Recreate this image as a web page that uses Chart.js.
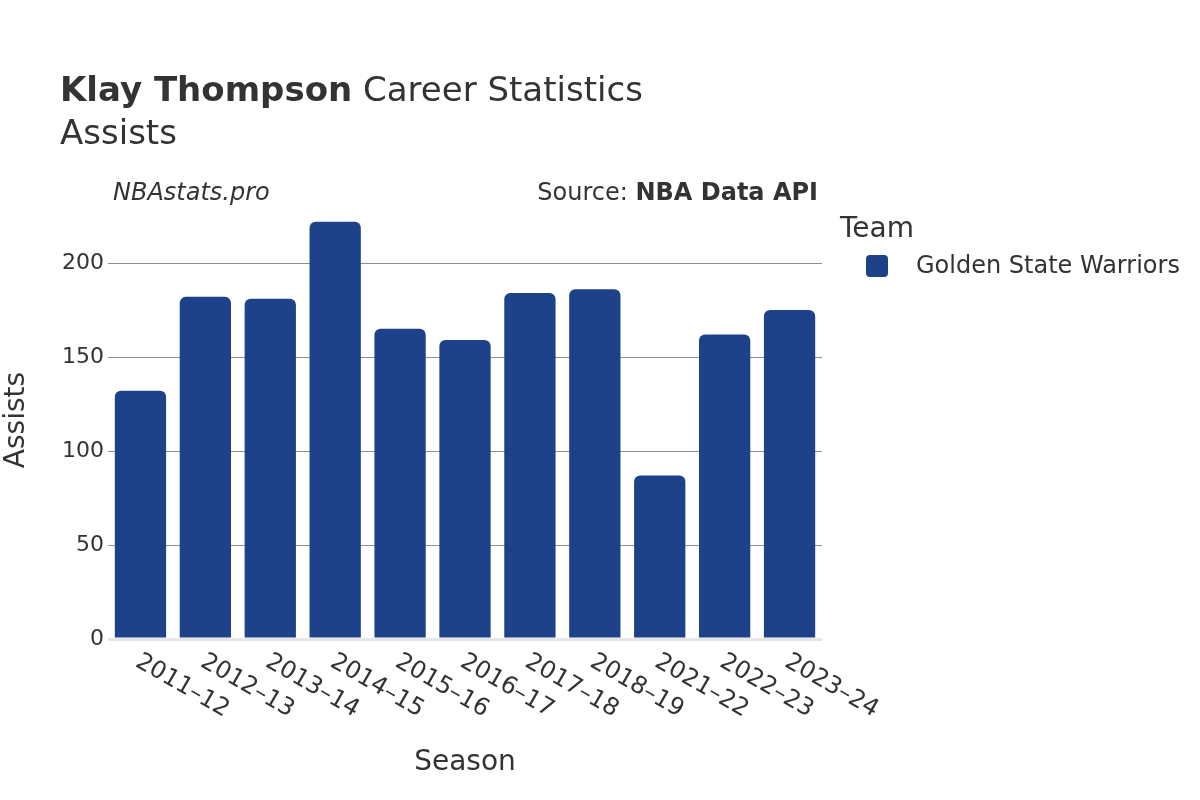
<!DOCTYPE html>
<html>
<head>
<meta charset="utf-8">
<script src="https://cdn.jsdelivr.net/npm/chart.js@4.4.1/dist/chart.umd.min.js"></script>
<style>
  html, body { margin: 0; padding: 0; background: #ffffff; }
  #wrap { width: 1200px; height: 800px; position: relative; }
</style>
</head>
<body>
<div id="wrap"><canvas id="c" width="1200" height="800"></canvas></div>
<script>
const seasons = ["2011–12", "2012–13", "2013–14", "2014–15", "2015–16", "2016–17", "2017–18", "2018–19", "2021–22", "2022–23", "2023–24"];
const assists = [132, 182, 181, 222, 165, 159, 184, 186, 87, 162, 175];
const yTicks = [0, 50, 100, 150, 200];
const teamName = "Golden State Warriors";
const titleBold = "Klay Thompson";
const titleRest = " Career Statistics";
const subtitle = "Assists";
const leftNote = "NBAstats.pro";
const sourceLabel = "Source: ";
const sourceBold = "NBA Data API";
const xTitle = "Season";
const yTitle = "Assists";
const legendTitle = "Team";

const FONT = "'DejaVu Sans', sans-serif";
const TXT = "#333333";
const BAR = "#1d428a";

const overlay = {
  id: 'overlay',
  afterDraw(chart) {
    const ctx = chart.ctx;
    const area = chart.chartArea;
    const xs = chart.scales.x;
    ctx.save();
    ctx.fillStyle = TXT;
    ctx.textBaseline = 'alphabetic';
    // Title
    ctx.textAlign = 'left';
    ctx.font = "bold 34px " + FONT;
    ctx.fillText(titleBold, 60, 101);
    const w = ctx.measureText(titleBold).width;
    ctx.font = "34px " + FONT;
    ctx.fillText(titleRest, 60 + w, 101);
    ctx.fillText(subtitle, 60, 144);
    // Notes
    ctx.font = "italic 24px " + FONT;
    ctx.fillText(leftNote, 113, 200);
    ctx.textAlign = 'right';
    ctx.font = "bold 24px " + FONT;
    ctx.fillText(sourceBold, 818, 200);
    const sbw = ctx.measureText(sourceBold).width;
    ctx.font = "24px " + FONT;
    ctx.fillText(sourceLabel, 818 - sbw, 200);
    // Axis titles
    ctx.textAlign = 'center';
    ctx.font = "28px " + FONT;
    ctx.fillText(xTitle, (area.left + area.right) / 2, 770);
    ctx.save();
    ctx.translate(17, (area.top + area.bottom) / 2);
    ctx.rotate(-Math.PI / 2);
    ctx.textBaseline = 'middle';
    ctx.fillText(yTitle, 0, 0);
    ctx.restore();
    // X tick labels (rotated clockwise)
    ctx.font = "24px " + FONT;
    ctx.textAlign = 'left';
    ctx.textBaseline = 'middle';
    seasons.forEach((s, i) => {
      const px = xs.getPixelForValue(i);
      ctx.save();
      ctx.translate(px - 3, area.bottom + 21);
      ctx.rotate(Math.PI / 6);
      ctx.fillText(s, 0, 0);
      ctx.restore();
    });
    // Legend
    ctx.textAlign = 'left';
    ctx.textBaseline = 'alphabetic';
    ctx.font = "28px " + FONT;
    ctx.fillText(legendTitle, 840, 237);
    ctx.fillStyle = chart.data.datasets[0].backgroundColor;
    ctx.beginPath();
    ctx.roundRect(866, 255, 22, 22, 4);
    ctx.fill();
    ctx.fillStyle = TXT;
    ctx.font = "24px " + FONT;
    ctx.textBaseline = 'middle';
    ctx.fillText(chart.data.datasets[0].label, 916, 267);
    ctx.restore();
  }
};

new Chart(document.getElementById('c'), {
  type: 'bar',
  data: {
    labels: seasons,
    datasets: [{
      label: teamName,
      data: assists,
      backgroundColor: BAR,
      borderRadius: 6,
      borderSkipped: 'start',
      categoryPercentage: 1.0,
      barPercentage: 0.79
    }]
  },
  options: {
    responsive: false,
    animation: false,
    devicePixelRatio: 1,
    layout: { padding: { left: 0, top: 201, right: 378, bottom: 0 } },
    plugins: { legend: { display: false }, tooltip: { enabled: false }, title: { display: false } },
    scales: {
      x: {
        type: 'category',
        grid: { display: false, drawTicks: false },
        border: { display: false },
        ticks: { display: false },
        afterFit(scale) { scale.height = 161; }
      },
      y: {
        min: 0,
        max: 233,
        afterBuildTicks(scale) { scale.ticks = yTicks.map(v => ({ value: v })); },
        grid: {
          drawTicks: false,
          color: (c) => c.tick && c.tick.value === 0 ? '#e6e6e6' : '#8f8f8f',
          lineWidth: (c) => c.tick && c.tick.value === 0 ? 3 : 1
        },
        border: { display: false },
        ticks: {
          padding: 4,
          color: TXT,
          font: { family: FONT, size: 22 }
        },
        afterFit(scale) { scale.width = 108; }
      }
    }
  },
  plugins: [overlay]
});
</script>
</body>
</html>
